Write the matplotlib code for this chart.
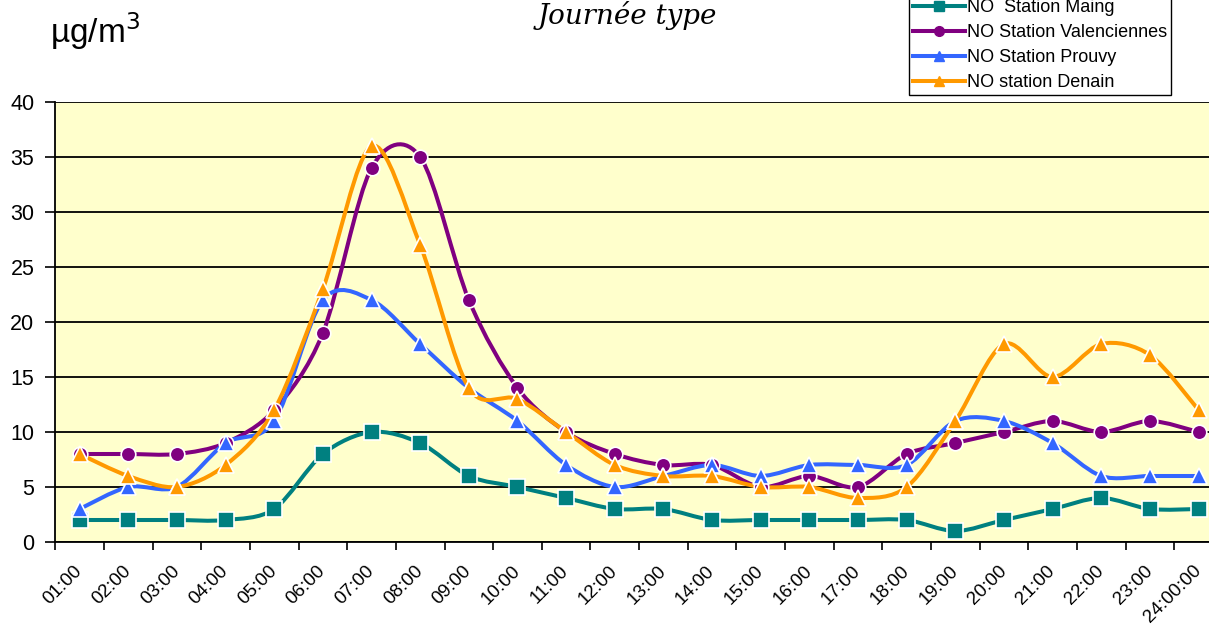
import matplotlib
matplotlib.use("Agg")
import matplotlib.pyplot as plt
from matplotlib.path import Path
from matplotlib.patches import PathPatch
from matplotlib.lines import Line2D
from matplotlib.transforms import ScaledTranslation

plt.rcParams["font.family"] = ["Liberation Sans", "DejaVu Sans"]

hours = ["01:00", "02:00", "03:00", "04:00", "05:00", "06:00", "07:00", "08:00",
         "09:00", "10:00", "11:00", "12:00", "13:00", "14:00", "15:00", "16:00",
         "17:00", "18:00", "19:00", "20:00", "21:00", "22:00", "23:00", "24:00:00"]

maing = [2, 2, 2, 2, 3, 8, 10, 9, 6, 5, 4, 3, 3, 2, 2, 2, 2, 2, 1, 2, 3, 4, 3, 3]
valenciennes = [8, 8, 8, 9, 12, 19, 34, 35, 22, 14, 10, 8, 7, 7, 5, 6, 5, 8, 9, 10, 11, 10, 11, 10]
prouvy = [3, 5, 5, 9, 11, 22, 22, 18, 14, 11, 7, 5, 6, 7, 6, 7, 7, 7, 11, 11, 9, 6, 6, 6]
denain = [8, 6, 5, 7, 12, 23, 36, 27, 14, 13, 10, 7, 6, 6, 5, 5, 4, 5, 11, 18, 15, 18, 17, 12]

series = [
    ("NO  Station Maing", maing, "#008080", "s", 11),
    ("NO Station Valenciennes", valenciennes, "#800080", "o", 10.5),
    ("NO Station Prouvy", prouvy, "#3366FF", "^", 11),
    ("NO station Denain", denain, "#FF9900", "^", 11),
]


def smooth_path(x, y, k=1 / 6.5):
    # Excel-like smoothed line: Catmull-Rom turned into cubic Beziers
    n = len(x)
    verts = [(x[0], y[0])]
    codes = [Path.MOVETO]
    for i in range(n - 1):
        a = max(i - 1, 0)
        b = min(i + 2, n - 1)
        c1 = (x[i] + (x[i + 1] - x[a]) * k, y[i] + (y[i + 1] - y[a]) * k)
        c2 = (x[i + 1] - (x[b] - x[i]) * k, y[i + 1] - (y[b] - y[i]) * k)
        verts += [c1, c2, (x[i + 1], y[i + 1])]
        codes += [Path.CURVE4] * 3
    return Path(verts, codes)


fig = plt.figure(figsize=(12.09, 6.28), dpi=100)
ax = fig.add_axes([55.3 / 1209, 1 - 542 / 628, 24 * 48.65 / 1209, 440 / 628])
ax.set_facecolor("#FFFFCC")

xs = list(range(len(hours)))
handles = []
for name, vals, color, marker, ms in series:
    ax.add_patch(PathPatch(smooth_path(xs, vals), fill=False, edgecolor=color,
                           lw=2.9, capstyle="round", joinstyle="round", zorder=3))
    ax.plot(xs, vals, linestyle="none", marker=marker, markersize=ms,
            markerfacecolor=color, markeredgecolor="white", markeredgewidth=1.2, zorder=4)
    handles.append(Line2D([], [], color=color, lw=2.9, marker=marker, markersize=7,
                          markerfacecolor=color, markeredgecolor=color, label=name))

ax.set_xlim(-0.5, len(hours) - 0.5)
ax.set_ylim(0, 40)
ax.set_yticks(range(0, 41, 5))
ax.yaxis.grid(True, color="black", lw=1.3)
ax.set_axisbelow(True)

# ticks between categories, labels at category centres
ax.set_xticks([i - 0.5 for i in range(len(hours) + 1)])
ax.set_xticklabels([])
ax.set_xticks(xs, minor=True)
ax.set_xticklabels(hours, minor=True, rotation=45, ha="right", va="center",
                   rotation_mode="anchor", fontsize=13.5)
shift = ScaledTranslation(-0.08, 0, fig.dpi_scale_trans)
for lbl in ax.get_xticklabels(minor=True):
    lbl.set_transform(lbl.get_transform() + shift)
ax.tick_params(axis="x", which="minor", length=0, pad=19)
ax.tick_params(axis="x", which="major", length=6, width=1.2, direction="out")
ax.tick_params(axis="y", length=7, width=1.2, direction="out", labelsize=15.5, pad=8)

for s in ["top", "right"]:
    ax.spines[s].set_visible(False)
for s in ["left", "bottom"]:
    ax.spines[s].set_linewidth(1.3)

fig.text(50 / 1209, 1 - 43 / 628, "µg/m$^3$", fontsize=24, va="baseline", ha="left")
fig.text(627 / 1209, 1 - 24 / 628, "Journée type", fontsize=20, style="italic",
         family="DejaVu Serif", ha="center", va="baseline")

leg = fig.legend(handles=handles, loc="lower left",
                 bbox_to_anchor=(909 / 1209, 1 - 95 / 628), fontsize=13,
                 frameon=True, fancybox=False, edgecolor="black", framealpha=1,
                 handlelength=2.9, handletextpad=0.1, labelspacing=0.45,
                 borderpad=0.2, borderaxespad=0)
leg.get_frame().set_linewidth(1.0)

fig.savefig("out.png", dpi=100)
